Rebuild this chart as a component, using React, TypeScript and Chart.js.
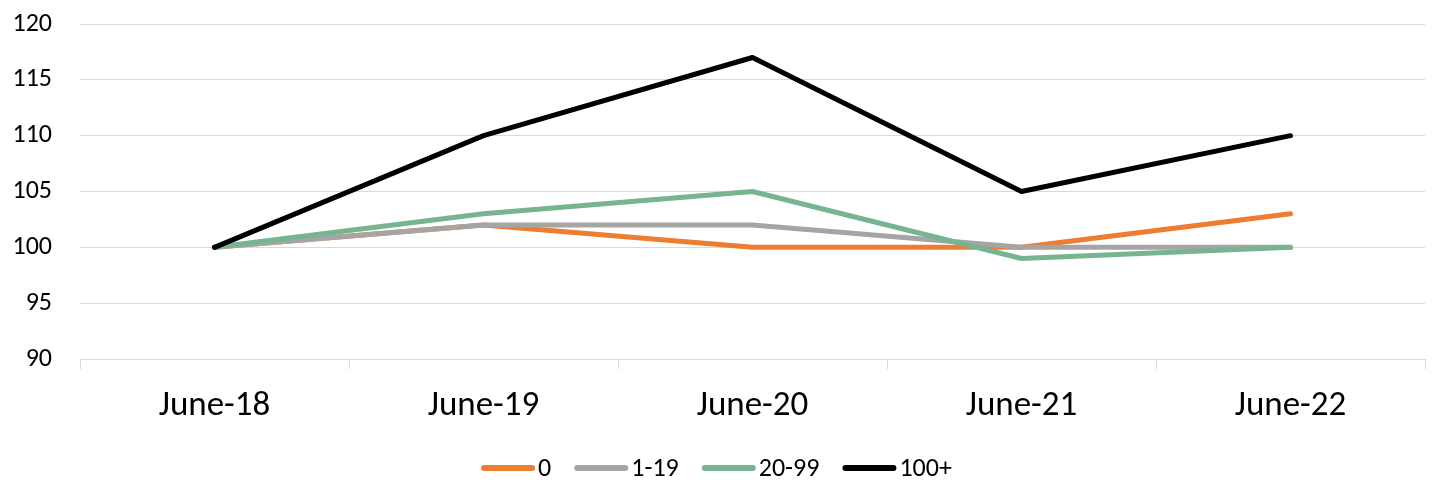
import React, { useEffect, useRef } from "react";
import { Chart, registerables } from "chart.js";

Chart.register(...registerables);

const categories = ["June-18", "June-19", "June-20", "June-21", "June-22"];
const seriesNames = ["0", "1-19", "20-99", "100+"];
const series0 = [100, 102, 100, 100, 103];
const series1to19 = [100, 102, 102, 100, 100];
const series20to99 = [100, 103, 105, 99, 100];
const series100plus = [100, 110, 117, 105, 110];
const colors = ["#ED7D31", "#A5A5A5", "#76B58F", "#000000"];

const FONT = "Carlito, Calibri, Lato, 'Open Sans', sans-serif";

const bottomLegend = {
  id: "bottomLegend",
  afterDraw(chart: any) {
    const ctx = chart.ctx as CanvasRenderingContext2D;
    const ds = chart.data.datasets;
    const lineW = 54;
    const gapText = 3;
    const gapItem = 23;
    ctx.save();
    ctx.font = `26px ${FONT}`;
    ctx.textBaseline = "middle";
    ctx.textAlign = "left";
    const widths = ds.map((d: any) => lineW + gapText + ctx.measureText(d.label).width);
    const total = widths.reduce((a: number, b: number) => a + b, 0) + gapItem * (ds.length - 1);
    let x = (chart.width - total) / 2;
    const y = 468;
    ds.forEach((d: any, i: number) => {
      ctx.strokeStyle = d.borderColor;
      ctx.lineWidth = 6;
      ctx.lineCap = "round";
      ctx.beginPath();
      ctx.moveTo(x + 3, y);
      ctx.lineTo(x + lineW - 3, y);
      ctx.stroke();
      ctx.fillStyle = "#000";
      ctx.fillText(d.label, x + lineW + gapText, y + 1);
      x += widths[i] + gapItem;
    });
    ctx.restore();
  },
};

export default function App() {
  const ref = useRef<HTMLCanvasElement | null>(null);

  useEffect(() => {
    document.body.style.margin = "0";
    const values = [series0, series1to19, series20to99, series100plus];
    const chart = new Chart(ref.current as HTMLCanvasElement, {
      type: "line",
      data: {
        labels: categories,
        datasets: values.map((v, i) => ({
          label: seriesNames[i],
          data: v,
          borderColor: colors[i],
          backgroundColor: colors[i],
          borderWidth: 5,
          pointRadius: 0,
          tension: 0,
          borderCapStyle: "round" as const,
          borderJoinStyle: "round" as const,
          order: 3 - i,
        })),
      },
      plugins: [bottomLegend],
      options: {
        animation: false,
        responsive: false,
        maintainAspectRatio: false,
        layout: { padding: { top: 24, right: 8, left: 0, bottom: 38 } },
        plugins: {
          tooltip: { enabled: false },
          legend: { display: false },
        },
        scales: {
          x: {
            offset: true,
            grid: {
              offset: true,
              drawOnChartArea: false,
              drawTicks: true,
              tickLength: 10,
              color: "#D9D9D9",
              lineWidth: 1,
            },
            border: { display: true, color: "#D9D9D9", width: 1 },
            ticks: {
              color: "#000",
              font: { family: FONT, size: 35 },
              padding: 16,
              maxRotation: 0,
            },
            afterFit: (s: any) => {
              s.height = 85;
            },
          },
          y: {
            min: 90,
            max: 120,
            grid: { color: "#D9D9D9", lineWidth: 1, drawTicks: false },
            border: { display: false },
            ticks: {
              stepSize: 5,
              color: "#000",
              font: { family: FONT, size: 26 },
              padding: 28,
            },
            afterFit: (s: any) => {
              s.width = 80;
              s.paddingTop = 0;
              s.paddingBottom = 0;
            },
          },
        },
      },
    });
    return () => chart.destroy();
  }, []);

  return (
    <div style={{ position: "absolute", left: 0, top: 0, width: 1433, height: 482 }}>
      <canvas ref={ref} width={1433} height={482} style={{ width: 1433, height: 482 }} />
    </div>
  );
}
